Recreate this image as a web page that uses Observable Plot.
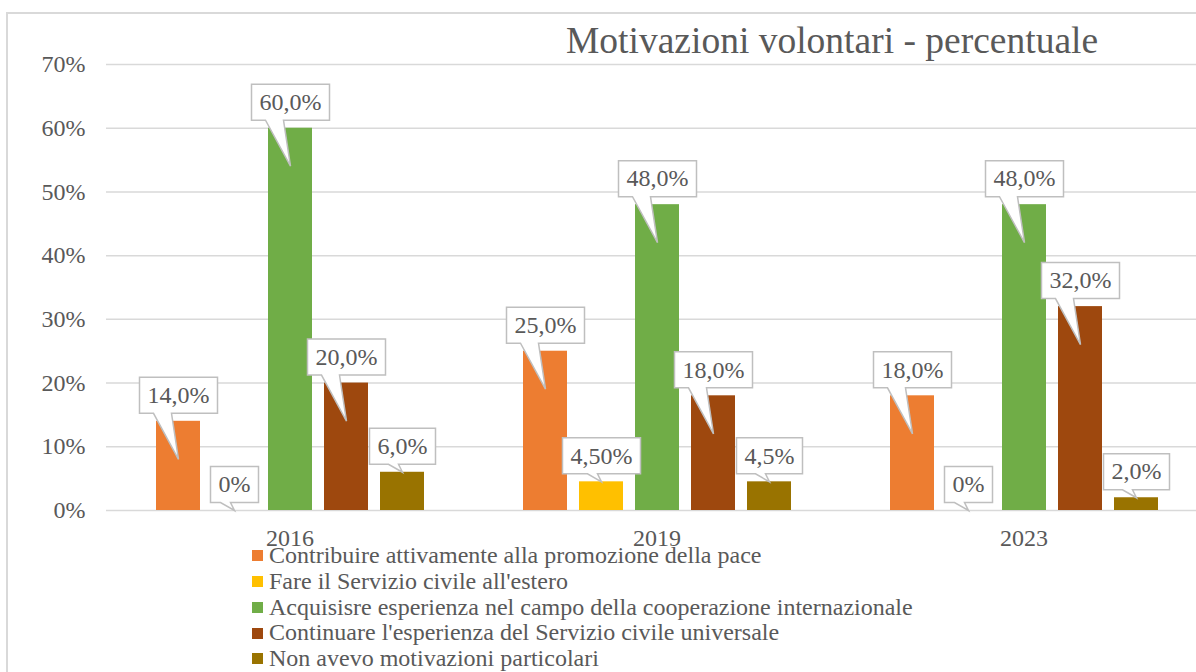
<!DOCTYPE html>
<html><head><meta charset="utf-8">
<script src="https://cdn.jsdelivr.net/npm/d3@7"></script>
<script src="https://cdn.jsdelivr.net/npm/@observablehq/plot@0.6"></script>
<style>
html,body{margin:0;padding:0;background:#fff;overflow:hidden;width:1196px;height:672px;}
#frame{position:absolute;left:6px;top:12px;width:1400px;height:900px;border:2px solid #d9d9d9;}
#chart{position:absolute;left:0;top:0;}
#chart svg, #chart svg text{font-family:"Liberation Serif","Times New Roman",serif !important;}
#title{position:absolute;left:566px;top:22px;font-family:"Liberation Serif","Times New Roman",serif;font-size:37.5px;color:#595959;line-height:1;white-space:nowrap;}
#legend{position:absolute;left:252px;top:543px;font-family:"Liberation Serif","Times New Roman",serif;font-size:24px;color:#595959;}
.item{height:25.75px;line-height:25.75px;white-space:nowrap;display:flex;align-items:center;}
.sw{width:11px;height:11px;margin-right:6px;flex:none;}
</style></head><body>
<div id="frame"></div>
<div id="chart"></div>
<div id="title"></div>
<div id="legend"></div>
<script>
const titleText = "Motivazioni volontari - percentuale";
const years = ["2016", "2019", "2023"];
const series = [
  "Contribuire attivamente alla promozione della pace",
  "Fare il Servizio civile all'estero",
  "Acquisisre esperienza nel campo della cooperazione internazionale",
  "Continuare l'esperienza del Servizio civile universale",
  "Non avevo motivazioni particolari"
];
const colors = ["#ED7D31", "#FFC000", "#70AD47", "#9E480E", "#997300"];
const values2016 = [14, 0, 60, 20, 6];
const values2019 = [25, 4.5, 48, 18, 4.5];
const values2023 = [18, 0, 48, 32, 2];
const labels2016 = ["14,0%", "0%", "60,0%", "20,0%", "6,0%"];
const labels2019 = ["25,0%", "4,50%", "48,0%", "18,0%", "4,5%"];
const labels2023 = ["18,0%", "0%", "48,0%", "32,0%", "2,0%"];
const yTicks = [0, 10, 20, 30, 40, 50, 60, 70];
const yTickLabels = ["0%", "10%", "20%", "30%", "40%", "50%", "60%", "70%"];

const valuesByYear = [values2016, values2019, values2023];
const labelsByYear = [labels2016, labels2019, labels2023];
const rows = years.flatMap((yr, i) => series.map((s, j) => ({
  year: yr, series: s, value: valuesByYear[i][j], label: labelsByYear[i][j]
})));

const ctx2d = document.createElement("canvas").getContext("2d");
ctx2d.font = "24px 'Liberation Serif'";

function calloutShape(w, tall) {
  return {
    draw(ctx) {
      const h = w / 2;
      ctx.moveTo(-h, -44);
      ctx.lineTo(h, -44);
      ctx.lineTo(h, -8);
      if (tall) { ctx.lineTo(-7, -8); ctx.lineTo(0, 38); ctx.lineTo(-25, -8); }
      else { ctx.lineTo(-4, -8); ctx.lineTo(0, 0); ctx.lineTo(-14, -8); }
      ctx.lineTo(-h, -8);
      ctx.closePath();
    }
  };
}

const callouts = rows.map(d => {
  const w = Math.round(ctx2d.measureText(d.label).width) + 16;
  return Plot.dot([d], {
    fx: "year", x: "series", y: "value", r: 5,
    symbol: calloutShape(w, d.value > 8),
    fill: "white", stroke: "#bfbfbf", strokeWidth: 1.5
  });
});

const FONT = "Liberation Serif";
const chart = Plot.plot({
  width: 1196, height: 560,
  marginTop: 64, marginBottom: 50, marginLeft: 106, marginRight: 0,
  style: {fontFamily: FONT, fontSize: "24px", color: "#595959", background: "transparent"},
  fx: {domain: years, range: [106, 1207], padding: 0, label: null, axis: null},
  x: {domain: series, paddingInner: 0.22, paddingOuter: 0.86, axis: null},
  y: {domain: [0, 70], axis: null},
  color: {domain: series, range: colors},
  marks: [
    Plot.ruleY(yTicks, {stroke: "#d9d9d9", strokeWidth: 1.5}),
    Plot.axisY(yTicks, {tickSize: 0, tickPadding: 21, tickFormat: d => yTickLabels[yTicks.indexOf(d)], label: null, fontFamily: FONT}),
    Plot.axisFx({anchor: "bottom", tickSize: 0, tickPadding: 18, label: null, fontFamily: FONT}),
    Plot.barY(rows, {fx: "year", x: "series", y: "value", fill: "series"}),
    ...callouts,
    Plot.text(rows, {fx: "year", x: "series", y: "value", text: "label", dy: -26, lineAnchor: "middle", fontSize: 24, fontFamily: FONT, fill: "#595959"})
  ]
});
document.getElementById("chart").appendChild(chart);
document.getElementById("title").textContent = titleText;

const legend = document.getElementById("legend");
series.forEach((s, i) => {
  const item = document.createElement("div");
  item.className = "item";
  const sw = document.createElement("span");
  sw.className = "sw";
  sw.style.background = colors[i];
  const t = document.createElement("span");
  t.textContent = s;
  item.appendChild(sw);
  item.appendChild(t);
  legend.appendChild(item);
});
</script>
</body></html>
